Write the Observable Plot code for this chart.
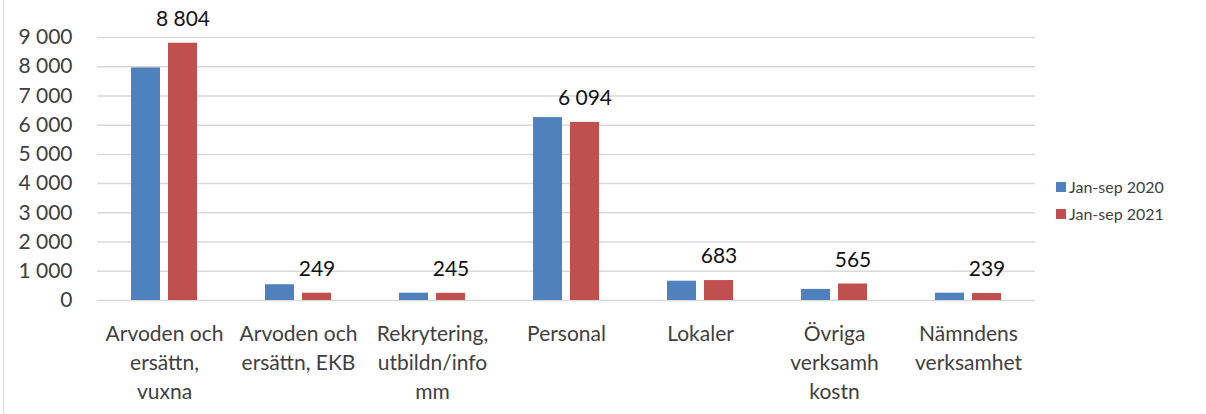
<!DOCTYPE html>
<html>
<head>
<meta charset="utf-8">
<script src="https://cdn.jsdelivr.net/npm/d3@7"></script>
<script src="https://cdn.jsdelivr.net/npm/@observablehq/plot@0.6"></script>
<style>
  html, body { margin: 0; padding: 0; background: white; }
  #wrap { position: relative; width: 1206px; height: 414px; overflow: hidden; background: white; font-family: Lato, "Liberation Sans", sans-serif; }
  #frame { position: absolute; left: 3px; top: 0; width: 0; height: 414px; border-left: 1.5px solid #d9d9d9; }
  #chart { position: absolute; left: 0; top: 0; }
  #legend { position: absolute; left: 1056px; top: 173px; font-size: 16px; color: #404040; }
  .item { display: flex; align-items: center; height: 27px; }
  .sw { width: 10px; height: 10px; margin-right: 3px; }
</style>
</head>
<body>
<div id="wrap">
  <div id="frame"></div>
  <div id="chart"></div>
  <div id="legend"></div>
</div>
<script>
const categories = [
  "Arvoden och\nersättn,\nvuxna",
  "Arvoden och\nersättn, EKB",
  "Rekrytering,\nutbildn/info\nmm",
  "Personal",
  "Lokaler",
  "Övriga\nverksamh\nkostn",
  "Nämndens\nverksamhet"
];
const series = ["Jan-sep 2020", "Jan-sep 2021"];
const values2020 = [7960, 540, 250, 6260, 660, 380, 250];
const values2021 = [8804, 249, 245, 6094, 683, 565, 239];
const yTicks = [0, 1000, 2000, 3000, 4000, 5000, 6000, 7000, 8000, 9000];
const colors = ["#4F81BD", "#C0504D"];

const fmt = v => d3.format(",")(v).replace(/,/g, "\u00a0");

const data = [];
categories.forEach((c, i) => {
  data.push({cat: c, series: series[0], value: values2020[i]});
  data.push({cat: c, series: series[1], value: values2021[i]});
});

const chart = Plot.plot({
  width: 1040,
  height: 414,
  marginLeft: 97,
  marginRight: 5,
  marginTop: 37,
  marginBottom: 114,
  style: {fontFamily: "Lato, 'Liberation Sans', sans-serif", fontSize: "21px", color: "#404040", background: "transparent"},
  fx: {domain: categories, padding: 0, label: null, axis: null},
  x: {domain: series, paddingInner: 0.216, paddingOuter: 0.918, axis: null},
  y: {domain: [0, 9000], axis: null},
  color: {domain: series, range: colors},
  marks: [
    Plot.ruleY(yTicks, {stroke: "#d9d9d9", strokeWidth: 1.5}),
    Plot.barY(data, {fx: "cat", x: "series", y: "value", fill: "series"}),
    Plot.text(data.filter(d => d.series === series[1]), {
      fx: "cat", x: "series", y: "value", text: d => fmt(d.value),
      dy: -24, fill: "#111", fontSize: 21
    }),
    Plot.axisY(yTicks, {tickSize: 0, tickPadding: 25, tickFormat: fmt, fontSize: 21, fill: "#404040", label: null}),
    Plot.axisFx({anchor: "bottom", tickSize: 0, tickPadding: 20, lineHeight: 1.38, fontSize: 21, fill: "#404040", label: null})
  ]
});
document.getElementById("chart").appendChild(chart);

const legend = document.getElementById("legend");
series.forEach((s, i) => {
  const row = document.createElement("div");
  row.className = "item";
  const sw = document.createElement("div");
  sw.className = "sw";
  sw.style.background = colors[i];
  const t = document.createElement("span");
  t.textContent = s;
  row.appendChild(sw);
  row.appendChild(t);
  legend.appendChild(row);
});
</script>
</body>
</html>
